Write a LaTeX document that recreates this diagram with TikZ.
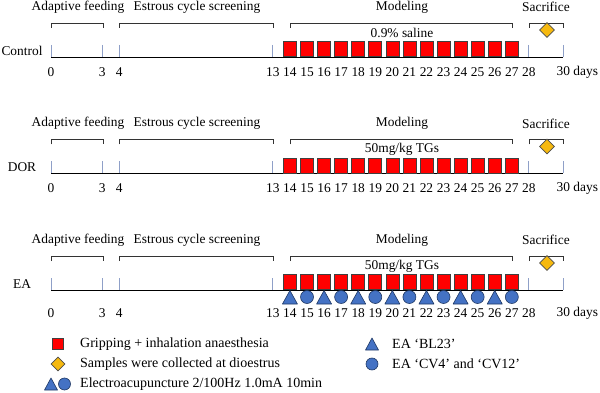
\documentclass[tikz,border=0pt]{standalone}
\usepackage{fontspec}
\setmainfont{Liberation Serif}
\usetikzlibrary{shapes.geometric}
\definecolor{tickc}{HTML}{8FA0C8}
\definecolor{redc}{HTML}{FF0000}
\definecolor{diac}{HTML}{F6B90F}
\definecolor{bluec}{HTML}{4472C4}
\definecolor{blueo}{HTML}{1F3864}
\newcommand\rowname[1]{\ifcase#1 Control\or DOR\or EA\fi}
\newcommand\rowdrug[1]{\ifcase#1 0.9\% saline\or 50mg/kg TGs\or 50mg/kg TGs\fi}
\tikzset{
 lbl/.style={font=\fontsize{13.4}{15}\selectfont, inner sep=0pt},
 leg/.style={font=\fontsize{14}{16}\selectfont, inner sep=0pt, anchor=west},
 tickl/.style={draw=tickc, line width=0.8pt},
 axisl/.style={draw=black, line width=0.8pt},
 brk/.style={draw=black!80, line width=0.8pt},
 sq/.style={draw=black!75, fill=redc, minimum width=13pt, minimum height=15pt, inner sep=0pt, line width=0.6pt},
 dia/.style={diamond, draw=black!70, fill=diac, minimum width=15pt, minimum height=15pt, inner sep=0pt, line width=0.6pt},
 tristy/.style={draw=blueo, fill=bluec, line width=0.6pt, line join=round},
 circsty/.style={draw=blueo, fill=bluec, line width=0.6pt}
}
\begin{document}
\begin{tikzpicture}[x=1pt,y=-1pt]
\useasboundingbox (0,0) rectangle (600,393);
\foreach \r in {0,1,2}{
  \pgfmathsetmacro\yo{116.5*\r}
  \pgfmathsetmacro\ly{\r==2 ? 23 : 15}
  \begin{scope}[shift={(0,\yo)}]
    \node[lbl] (name\r) at (22,51) {\rowname{\r}};
    \node[lbl] (af\r) at (78,7) {Adaptive feeding};
    \node[lbl] (ec\r) at (197,7) {Estrous cycle screening};
    \node[lbl] (mo\r) at (402,7) {Modeling};
    \node[lbl] (sa\r) at (546,7) {Sacrifice};
    \node[lbl] (dr\r) at (402,33) {\rowdrug{\r}};
    % brackets
    \draw[brk] (51,28) -- (51,23) -- (103,23) -- (103,28);
    \draw[brk] (119,28) -- (119,23) -- (273,23) -- (273,28);
    \draw[brk] (290,28) -- (290,23) -- (512,23) -- (512,28);
    \draw[brk] (529,28) -- (529,23) -- (563,23) -- (563,28);
    % ticks and axis
    \foreach \d in {0,3,4,13,28,30}
      \draw[tickl] ({51+17.067*\d},45) -- ({51+17.067*\d},57);
    \draw[axisl] (51,57) -- (563,57);
    % squares
    \foreach \d in {14,...,27}
      \node[sq, anchor=south] (s\r-\d) at ({51+17.067*\d},57) {};
    \node[dia] (dm\r) at (547,30) {};
    % day labels
    \foreach \d in {0,3,4,13,14,...,28}
      \node[lbl] (n\r-\d) at ({51+17.067*\d},{57+\ly}) {\d};
    \node[lbl, anchor=west] (n\r-30) at (556.5,{57+\ly}) {30 days};
  \end{scope}
}
% EA markers
\foreach \d in {14,16,...,26}
  \draw[tristy] ({51+17.067*\d-7.5},304) -- ({51+17.067*\d+7.5},304) -- ({51+17.067*\d},290.5) -- cycle;
\foreach \d in {15,17,...,27}
  \draw[circsty] ({51+17.067*\d},297) circle (6.5);
% legend
\node[sq, minimum width=11pt, minimum height=11pt] (lg1) at (58,344) {};
\node[leg] (lt1) at (80,344) {Gripping + inhalation anaesthesia};
\node[dia, minimum width=14pt, minimum height=14pt] (lg2) at (58,364) {};
\node[leg] (lt2) at (80,364) {Samples were collected at dioestrus};
\draw[tristy] (44.5,390) -- (57.5,390) -- (51,378) -- cycle;
\draw[circsty] (64.5,384) circle (6);
\node[leg] (lt3) at (80,384) {Electroacupuncture 2/100Hz 1.0mA 10min};
\draw[tristy] (365.5,350) -- (378.5,350) -- (372,338) -- cycle;
\node[leg] (lt4) at (392,344) {EA ‘BL23’};
\draw[circsty] (372,364) circle (6);
\node[leg] (lt5) at (392,364) {EA ‘CV4’ and ‘CV12’};
\end{tikzpicture}
\end{document}
